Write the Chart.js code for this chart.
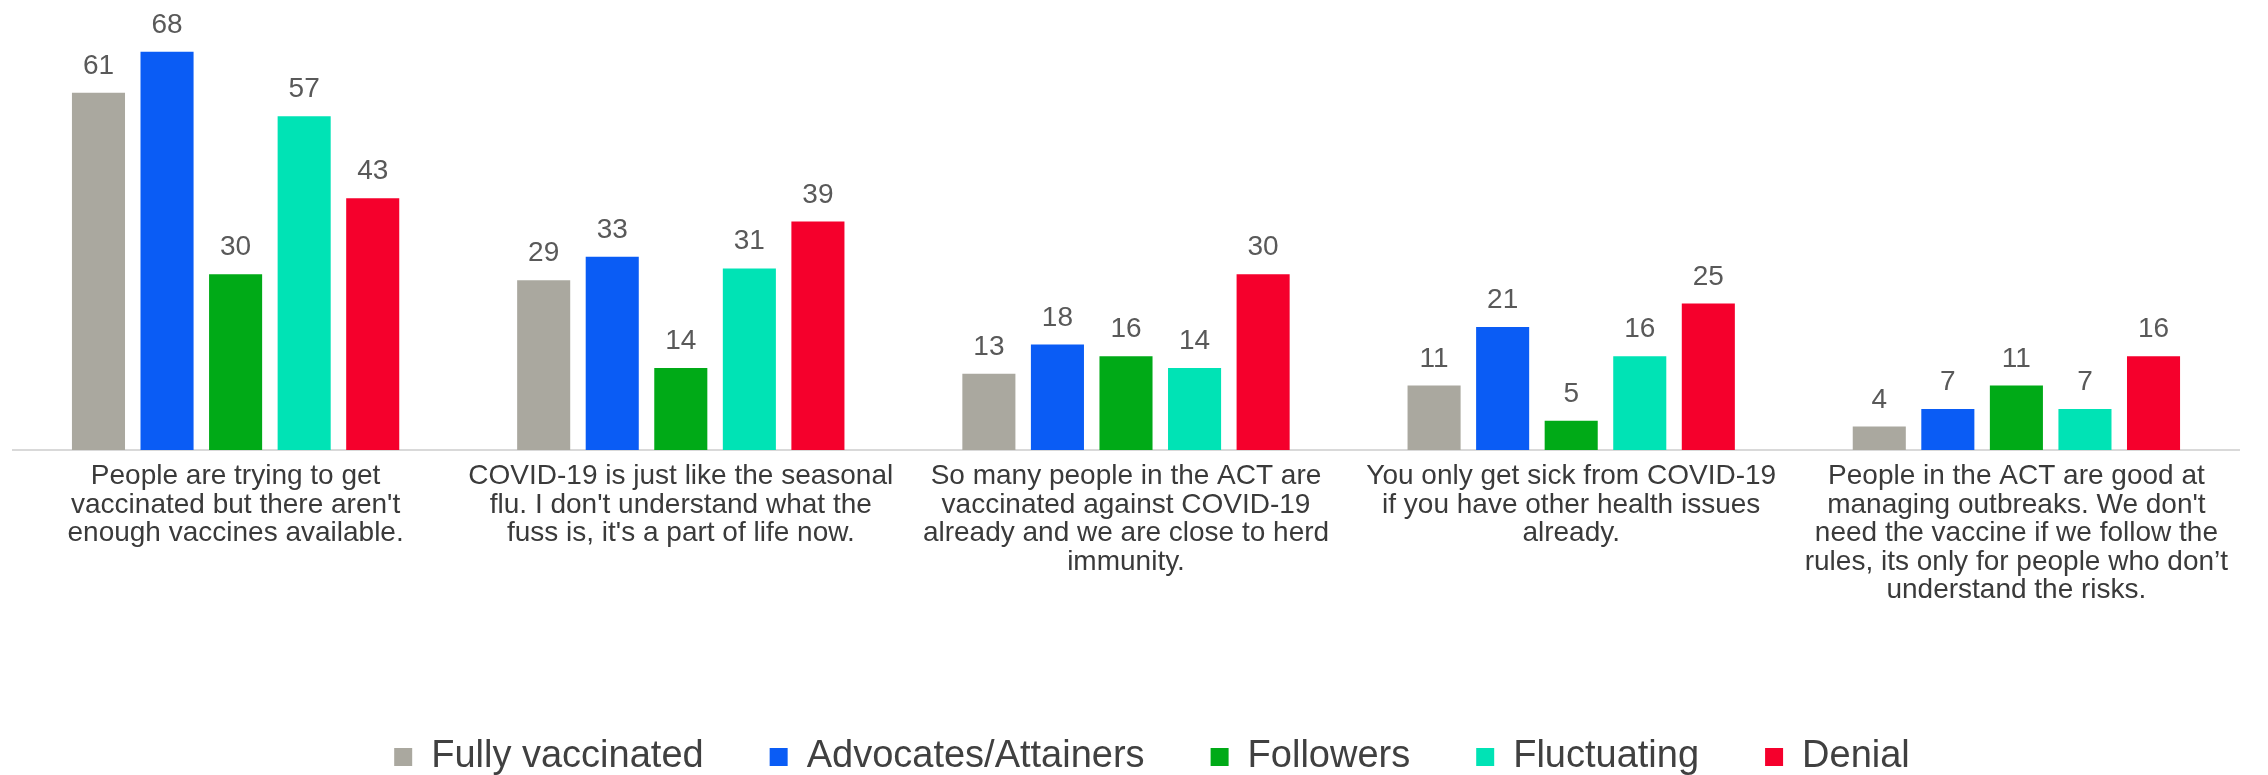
<!DOCTYPE html>
<html lang="en">
<head>
    <meta charset="UTF-8">
    <title>COVID-19 attitudes by segment</title>
    <script src="https://cdn.jsdelivr.net/npm/chart.js"></script>
    <style>
        body {
            margin: 0;
            background: #ffffff;
        }
        .wrap {
            width: 2268px;
            height: 775px;
        }
    </style>
</head>
<body>
    <div class="wrap">
        <canvas id="attitudesChart" width="2268" height="775"></canvas>
    </div>

    <script>
        // statements, pre-wrapped the way they appear under each group
        const statements = [
            ["People are trying to get", "vaccinated but there aren't", "enough vaccines available."],
            ["COVID-19 is just like the seasonal", "flu. I don't understand what the", "fuss is, it's a part of life now."],
            ["So many people in the ACT are", "vaccinated against COVID-19", "already and we are close to herd", "immunity."],
            ["You only get sick from COVID-19", "if you have other health issues", "already."],
            ["People in the ACT are good at", "managing outbreaks. We don't", "need the vaccine if we follow the", "rules, its only for people who don\u2019t", "understand the risks."]
        ];

        const segments = ["Fully vaccinated", "Advocates/Attainers", "Followers", "Fluctuating", "Denial"];
        const segmentColors = ["#aaa89f", "#0a5cf5", "#00aa17", "#00e3b5", "#f5002c"];

        const fullyVaccinated = [61, 29, 13, 11, 4];
        const advocates = [68, 33, 18, 21, 7];
        const followers = [30, 14, 16, 5, 11];
        const fluctuating = [57, 31, 14, 16, 7];
        const denial = [43, 39, 30, 25, 16];

        const seriesValues = [fullyVaccinated, advocates, followers, fluctuating, denial];

        // numbers above each bar
        const valueLabels = {
            id: 'valueLabels',
            afterDatasetsDraw(chart) {
                const ctx = chart.ctx;
                ctx.save();
                ctx.font = '28px "Liberation Sans", Arial, sans-serif';
                ctx.fillStyle = '#595959';
                ctx.textAlign = 'center';
                ctx.textBaseline = 'alphabetic';
                chart.data.datasets.forEach((ds, i) => {
                    chart.getDatasetMeta(i).data.forEach((bar, j) => {
                        ctx.fillText(ds.data[j], bar.x, bar.y - 19);
                    });
                });
                ctx.restore();
            }
        };

        // nudge the legend row a little right of centre
        const legendShift = {
            id: 'legendShift',
            afterLayout(chart) {
                chart.legend.left += 26;
                chart.legend.right += 26;
            }
        };

        let attitudesChart = new Chart(document.getElementById('attitudesChart'), {
            type: 'bar',
            data: {
                labels: statements,
                datasets: segments.map((name, i) => ({
                    label: name,
                    data: seriesValues[i],
                    backgroundColor: segmentColors[i],
                    borderWidth: 0,
                    categoryPercentage: 0.77,
                    barPercentage: 0.774
                }))
            },
            options: {
                responsive: false,
                animation: false,
                layout: { padding: { top: 40, left: 13, right: 29, bottom: -11 } },
                plugins: {
                    tooltip: { enabled: false },
                    legend: {
                        position: 'bottom',
                        labels: {
                            font: { family: '"Liberation Sans", Arial, sans-serif', size: 38 },
                            color: '#404040',
                            boxWidth: 18,
                            boxHeight: 18,
                            padding: 66
                        }
                    }
                },
                scales: {
                    x: {
                        grid: { display: false, drawTicks: false },
                        border: { display: true, color: '#d9d9d9', width: 2 },
                        ticks: {
                            autoSkip: false,
                            maxRotation: 0,
                            minRotation: 0,
                            padding: 12,
                            color: '#3a3a3a',
                            font: { family: '"Liberation Sans", Arial, sans-serif', size: 28, lineHeight: 1.02 }
                        },
                        afterFit(scale) {
                            scale.height = 222;
                        }
                    },
                    y: {
                        display: false,
                        min: 0,
                        max: 70
                    }
                }
            },
            plugins: [valueLabels, legendShift]
        });
    </script>
</body>
</html>
